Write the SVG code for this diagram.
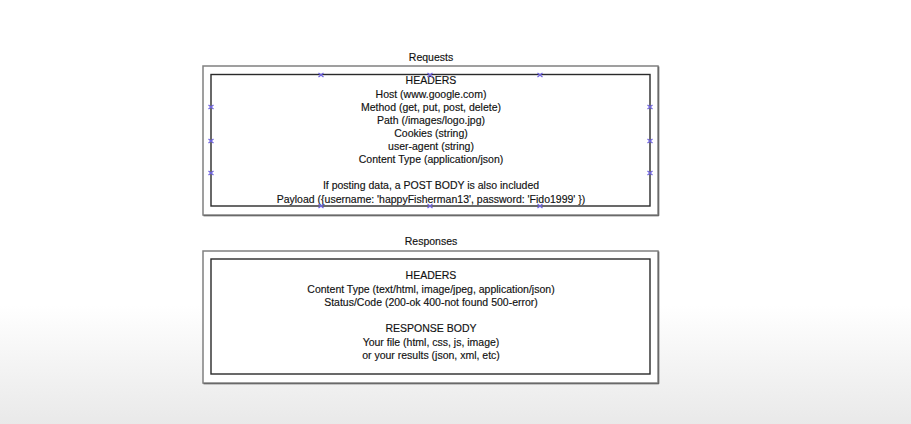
<svg xmlns="http://www.w3.org/2000/svg" width="911" height="424" viewBox="0 0 911 424">
<defs>
<linearGradient id="bg" x1="0" y1="0" x2="0" y2="1">
<stop offset="0" stop-color="#ffffff"/>
<stop offset="0.72" stop-color="#ffffff"/>
<stop offset="1" stop-color="#e9e9e9"/>
</linearGradient>
<g id="hx"><path d="M-2.5,-2 L2.5,2 M-2.5,2 L2.5,-2" stroke="#6f63e0" stroke-width="1.2"/></g>
</defs>
<style>
.outer{fill:#fff;stroke:#808080;stroke-width:1.5}
.shadow{fill:none;stroke:#555;stroke-width:1}
.inner{fill:none;stroke:#2a2a2a;stroke-width:1.4}
text{font-family:"Liberation Sans",Arial,sans-serif;font-size:10.5px;fill:#111;text-anchor:middle;stroke:#111;stroke-width:0.15}
</style>
<rect x="0" y="0" width="911" height="424" fill="url(#bg)"/>
<g id="requests">
<text x="431" y="61">Requests</text>
<rect class="outer" x="203" y="66" width="455" height="149"/>
<path class="shadow" d="M203.5,215.8 H658.8 V66.5"/>
<rect class="inner" x="211" y="74.5" width="439" height="131.5"/>
<text x="431" y="84">HEADERS</text>
<text x="431" y="97.5">Host (www.google.com)</text>
<text x="431" y="110.5">Method (get, put, post, delete)</text>
<text x="431" y="123.5">Path (/images/logo.jpg)</text>
<text x="431" y="136.5">Cookies (string)</text>
<text x="431" y="150">user-agent (string)</text>
<text x="431" y="163">Content Type (application/json)</text>
<text x="431" y="189">If posting data, a POST BODY is also included</text>
<text x="431" y="202.5">Payload ({username: 'happyFisherman13', password: 'Fido1999' })</text>
<g id="handles">
<use href="#hx" x="321" y="75"/><use href="#hx" x="430" y="75"/><use href="#hx" x="540" y="75"/>
<use href="#hx" x="321" y="206"/><use href="#hx" x="430" y="206"/><use href="#hx" x="540" y="206"/>
<use href="#hx" x="211" y="107"/><use href="#hx" x="211" y="141"/><use href="#hx" x="211" y="173"/>
<use href="#hx" x="650" y="107"/><use href="#hx" x="650" y="141"/><use href="#hx" x="650" y="173"/>
</g>
</g>
<g id="responses">
<text x="431" y="245">Responses</text>
<rect class="outer" x="203" y="251" width="455" height="132"/>
<path class="shadow" d="M203.5,383.8 H658.8 V251.5"/>
<rect class="inner" x="211" y="259" width="439" height="115"/>
<text x="431" y="279">HEADERS</text>
<text x="431" y="293">Content Type (text/html, image/jpeg, application/json)</text>
<text x="431" y="306">Status/Code (200-ok 400-not found 500-error)</text>
<text x="431" y="332">RESPONSE BODY</text>
<text x="431" y="346">Your file (html, css, js, image)</text>
<text x="431" y="359">or your results (json, xml, etc)</text>
</g>
<g id="connectors"></g>
</svg>
